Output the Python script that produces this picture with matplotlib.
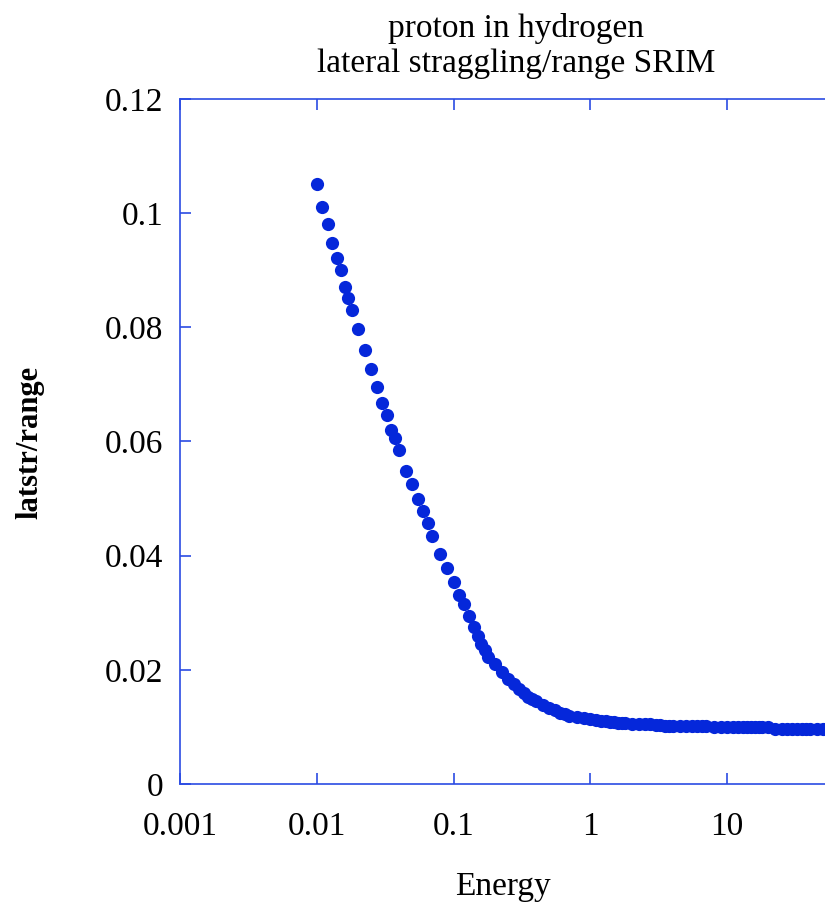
import numpy as np
import matplotlib.pyplot as plt
from matplotlib.ticker import FixedLocator, FuncFormatter, NullLocator

# SRIM energy grid (MeV) for protons in hydrogen
energy_MeV = np.array([
    0.010, 0.011, 0.012, 0.013, 0.014, 0.015, 0.016, 0.017, 0.018,
    0.020, 0.0225, 0.025, 0.0275, 0.030, 0.0325, 0.035, 0.0375, 0.040,
    0.045, 0.050, 0.055, 0.060, 0.065, 0.070, 0.080, 0.090,
    0.100, 0.110, 0.120, 0.130, 0.140, 0.150, 0.160, 0.170, 0.180,
    0.200, 0.225, 0.250, 0.275, 0.300, 0.325, 0.350, 0.375, 0.400,
    0.450, 0.500, 0.550, 0.600, 0.650, 0.700, 0.800, 0.900,
    1.0, 1.1, 1.2, 1.3, 1.4, 1.5, 1.6, 1.7, 1.8,
    2.0, 2.25, 2.5, 2.75, 3.0, 3.25, 3.5, 3.75, 4.0,
    4.5, 5.0, 5.5, 6.0, 6.5, 7.0, 8.0, 9.0,
    10.0, 11.0, 12.0, 13.0, 14.0, 15.0, 16.0, 17.0, 18.0,
    20.0, 22.5, 25.0, 27.5, 30.0, 32.5, 35.0, 37.5, 40.0,
    45.0, 50.0,
])

# lateral straggling divided by projected range
latstr_over_range = np.array([
    0.1051, 0.1011, 0.0981, 0.0948, 0.0921, 0.0900, 0.0871, 0.0851, 0.0830,
    0.0797, 0.0760, 0.0727, 0.0696, 0.0667, 0.0647, 0.0620, 0.0606, 0.0585,
    0.0549, 0.0525, 0.0499, 0.0478, 0.0458, 0.0435, 0.0403, 0.0378,
    0.0353, 0.0331, 0.0315, 0.0294, 0.0275, 0.0259, 0.0245, 0.0234, 0.0223,
    0.0210, 0.0196, 0.0184, 0.0175, 0.0166, 0.0160, 0.0153, 0.0149, 0.0145,
    0.0139, 0.0133, 0.0129, 0.0125, 0.0122, 0.0120, 0.0117, 0.0115,
    0.0113, 0.0112, 0.0110, 0.0110, 0.0109, 0.0108, 0.0107, 0.0107, 0.0107,
    0.0105, 0.0105, 0.0105, 0.0105, 0.0104, 0.0103, 0.0102, 0.0102, 0.0102,
    0.0102, 0.0102, 0.0102, 0.0102, 0.0102, 0.0102, 0.0099, 0.0099,
    0.0099, 0.0099, 0.0099, 0.0099, 0.0099, 0.0099, 0.0099, 0.0099, 0.0099,
    0.0099, 0.0096, 0.0096, 0.0096, 0.0096, 0.0096, 0.0096, 0.0096, 0.0096,
    0.0096, 0.0096,
])

x_ticks = [0.001, 0.01, 0.1, 1, 10]
y_ticks = [0, 0.02, 0.04, 0.06, 0.08, 0.1, 0.12]

frame_color = "#2b4ce3"
dot_color = "#0527da"

plt.rcParams["font.family"] = ["Liberation Serif", "DejaVu Serif"]

fig = plt.figure(figsize=(8.25, 9.07), dpi=100)
ax = fig.add_axes([180 / 825, 123 / 907, 645 / 825, 685 / 907])

ax.plot(energy_MeV, latstr_over_range, linestyle="none", marker="o",
        markersize=9.5, color=dot_color, markeredgewidth=0)

ax.set_xscale("log")
ax.set_xlim(0.001, 10 ** (1 + 98 / 137))
ax.set_ylim(0, 0.12)

ax.xaxis.set_major_locator(FixedLocator(x_ticks))
ax.xaxis.set_minor_locator(NullLocator())
ax.xaxis.set_major_formatter(FuncFormatter(lambda v, p: "%g" % v))
ax.yaxis.set_major_locator(FixedLocator(y_ticks))
ax.yaxis.set_major_formatter(FuncFormatter(lambda v, p: "%g" % v))

for side in ["left", "bottom", "top"]:
    ax.spines[side].set_color(frame_color)
    ax.spines[side].set_linewidth(1.2)
ax.spines["right"].set_visible(False)

ax.tick_params(axis="both", which="major", direction="in", length=8,
               width=1.2, color=frame_color, labelsize=24, top=True)
ax.tick_params(axis="x", pad=20)
ax.tick_params(axis="y", pad=12)

ax.set_xlabel("Energy", fontsize=24, labelpad=21)
fig.text(30 / 825, 1 - 442 / 907, "latstr/range", rotation=90,
         fontsize=22, fontweight="bold", ha="center", va="center")
fig.text(516 / 825, 1 - 46 / 907,
         "proton in hydrogen\nlateral straggling/range SRIM",
         fontsize=24, ha="center", va="center", linespacing=1.15)

fig.savefig("out.png", dpi=100)
